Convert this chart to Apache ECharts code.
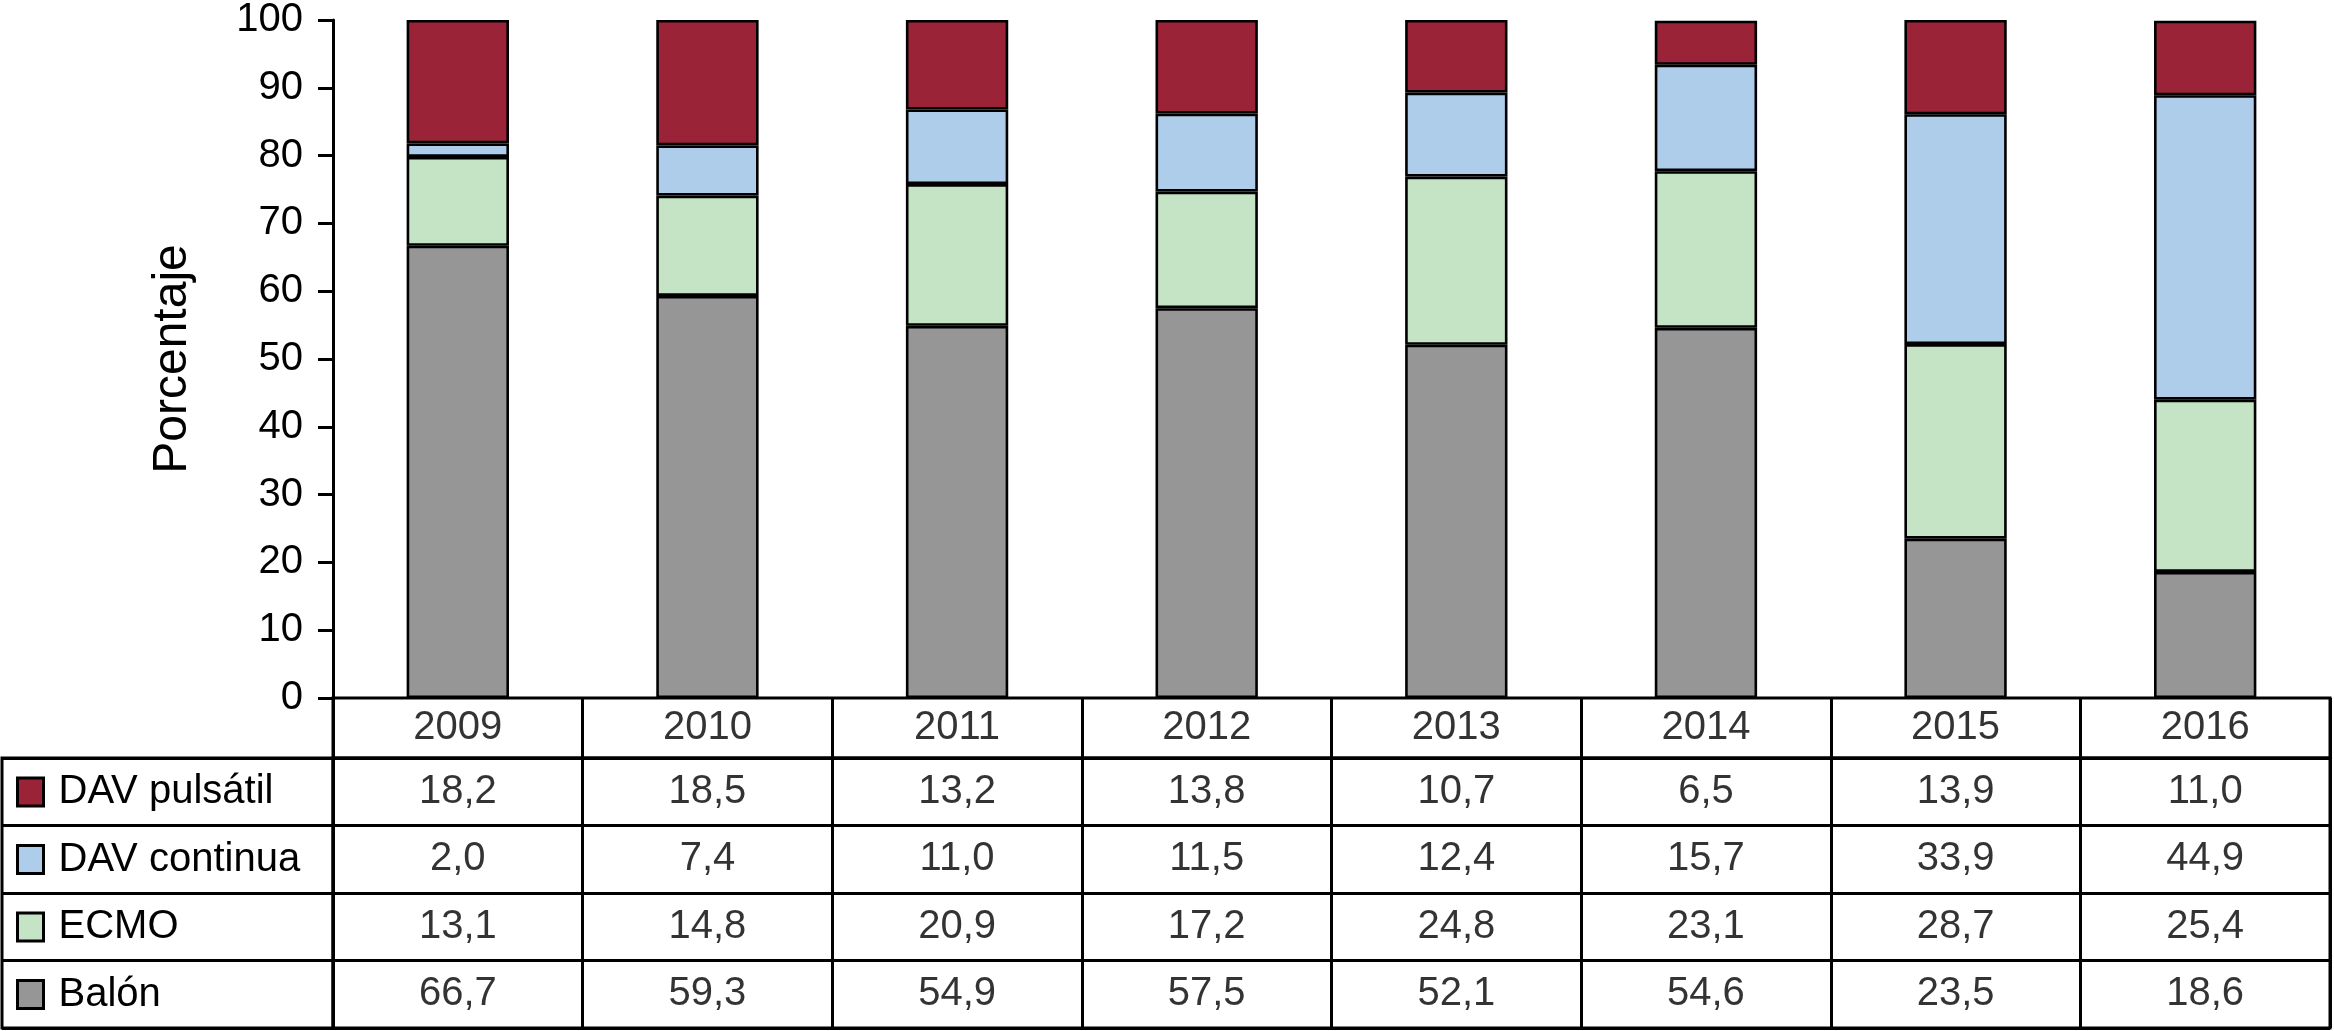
<!DOCTYPE html>
<html>
<head>
<meta charset="utf-8">
<script src="https://cdn.jsdelivr.net/npm/echarts@6/dist/echarts.min.js"></script>
<style>
html,body{margin:0;padding:0;background:#fff;}
#chart{width:2334px;height:1031px;}
</style>
</head>
<body>
<div id="chart"></div>
<script>
// ---- data ----
var years = ['2009','2010','2011','2012','2013','2014','2015','2016'];
var davPulsatil = [18.2, 18.5, 13.2, 13.8, 10.7, 6.5, 13.9, 11.0];
var davContinua = [2.0, 7.4, 11.0, 11.5, 12.4, 15.7, 33.9, 44.9];
var ecmo        = [13.1, 14.8, 20.9, 17.2, 24.8, 23.1, 28.7, 25.4];
var balon       = [66.7, 59.3, 54.9, 57.5, 52.1, 54.6, 23.5, 18.6];
var seriesNames = ['DAV pulsátil', 'DAV continua', 'ECMO', 'Balón'];
var yTicks = [0, 10, 20, 30, 40, 50, 60, 70, 80, 90, 100];

// ---- styles ----
var FONT = 'Liberation Sans, Arial, Helvetica, sans-serif';
var colors = {
  'DAV pulsátil': '#9B2338',
  'DAV continua': '#AECDEB',
  'ECMO': '#C5E3C5',
  'Balón': '#969696'
};
var valuesByName = {
  'DAV pulsátil': davPulsatil,
  'DAV continua': davContinua,
  'ECMO': ecmo,
  'Balón': balon
};
function fmt(v){ return v.toFixed(1).replace('.', ','); }

var LINE = 3;
var chart = echarts.init(document.getElementById('chart'), null, {renderer:'canvas'});

// bar series, stacked bottom to top
var stackOrder = ['Balón', 'ECMO', 'DAV continua', 'DAV pulsátil'];
var series = stackOrder.map(function(n){
  return {
    name: n, type: 'bar', stack: 'total', xAxisIndex: 0, yAxisIndex: 0,
    barWidth: '41%',
    itemStyle: { color: colors[n], borderColor: '#000', borderWidth: 2.6 },
    data: valuesByName[n]
  };
});

// table header: years
series.push({
  type: 'scatter', xAxisIndex: 1, yAxisIndex: 1, symbolSize: 0, silent: true,
  label: { show: true, position: 'inside', color: '#000', fontSize: 40, fontFamily: FONT,
    formatter: function(p){ return p.value[0]; } },
  data: years.map(function(y){ return [y, 'h']; })
});
// table body: values
var bodyData = [];
seriesNames.forEach(function(n){
  valuesByName[n].forEach(function(v, i){ bodyData.push([years[i], n, v]); });
});
series.push({
  type: 'scatter', xAxisIndex: 2, yAxisIndex: 2, symbolSize: 0, silent: true,
  label: { show: true, position: 'inside', color: '#000', fontSize: 40, fontFamily: FONT,
    formatter: function(p){ return fmt(p.value[2]); } },
  data: bodyData
});

var splitBlack = { show: true, interval: 0, lineStyle: { color: '#000', width: LINE } };

var option = {
  backgroundColor: '#fff',
  animation: false,
  textStyle: { fontFamily: FONT },
  grid: [
    { left: 333, right: 4, top: 20, bottom: 333 },                       // plot
    { left: 333, right: 4, top: 698, height: 60, show: true, borderColor: '#000', borderWidth: LINE }, // header
    { left: 333, right: 4, top: 758, bottom: 3, show: true, borderColor: '#000', borderWidth: LINE },  // body
    { left: 2, width: 331, top: 758, bottom: 3, show: true, borderColor: '#000', borderWidth: LINE }    // legend column
  ],
  legend: {
    data: seriesNames,
    orient: 'vertical', left: 16, top: 772,
    itemWidth: 26, itemHeight: 28, itemGap: 27.5, padding: 0,
    icon: 'rect',
    selectedMode: false,
    itemStyle: { borderColor: '#000', borderWidth: 3 },
    textStyle: { fontSize: 40, lineHeight: 40, color: '#000', fontFamily: FONT, padding: [0, 0, 0, 10] }
  },
  xAxis: [
    { type: 'category', gridIndex: 0, data: years, axisLine: { show: false },
      axisTick: { show: false }, axisLabel: { show: false } },
    { type: 'category', gridIndex: 1, data: years, axisLine: { show: false },
      axisTick: { show: false }, axisLabel: { show: false }, splitLine: splitBlack },
    { type: 'category', gridIndex: 2, data: years, axisLine: { show: false },
      axisTick: { show: false }, axisLabel: { show: false }, splitLine: splitBlack },
    { type: 'category', gridIndex: 3, data: [''], axisLine: { show: false },
      axisTick: { show: false }, axisLabel: { show: false } }
  ],
  yAxis: [
    { type: 'value', gridIndex: 0, min: yTicks[0], max: yTicks[yTicks.length-1], interval: 10,
      name: 'Porcentaje', nameLocation: 'middle', nameGap: 136, nameRotate: 90,
      nameTextStyle: { fontSize: 48, color: '#000', fontFamily: FONT },
      axisLine: { show: true, lineStyle: { color: '#000', width: LINE } },
      axisTick: { show: true, inside: false, length: 15, lineStyle: { color: '#000', width: LINE } },
      axisLabel: { fontSize: 40, color: '#000', margin: 30, fontFamily: FONT },
      splitLine: { show: false } },
    { type: 'category', gridIndex: 1, data: ['h'], axisLine: { show: false },
      axisTick: { show: false }, axisLabel: { show: false } },
    { type: 'category', gridIndex: 2, data: seriesNames, inverse: true, axisLine: { show: false },
      axisTick: { show: false }, axisLabel: { show: false }, splitLine: splitBlack },
    { type: 'category', gridIndex: 3, data: seriesNames, inverse: true, axisLine: { show: false },
      axisTick: { show: false }, axisLabel: { show: false }, splitLine: splitBlack }
  ],
  series: series
};
chart.setOption(option);
</script>
</body>
</html>
